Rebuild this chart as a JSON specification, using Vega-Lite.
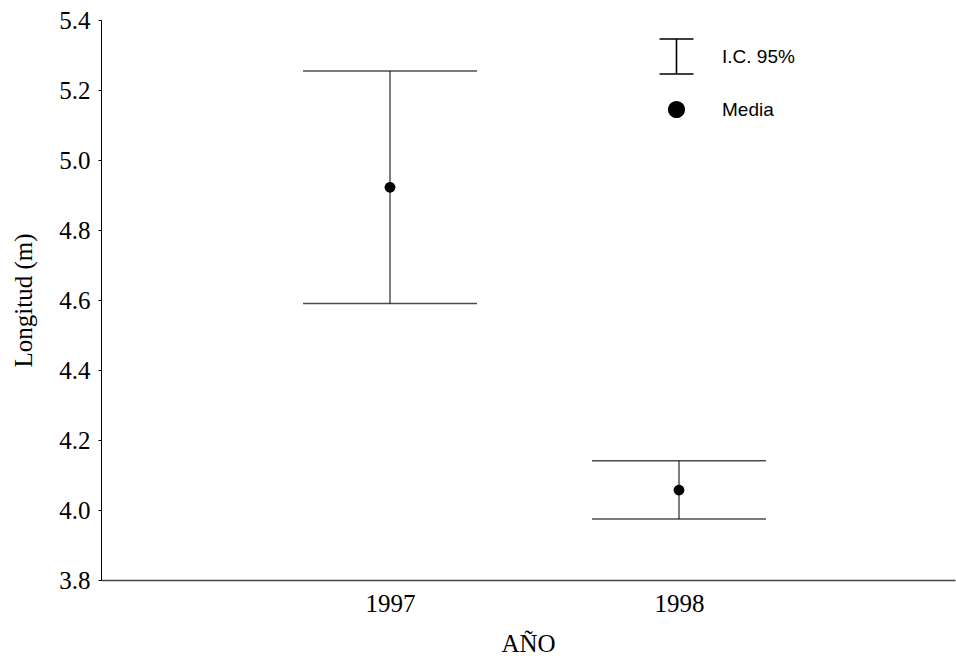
{
  "$schema": "https://vega.github.io/schema/vega-lite/v6.json",
  "width": 854,
  "height": 560,
  "autosize": "none",
  "padding": {"left": 101, "top": 20, "right": 1, "bottom": 80},
  "background": "white",
  "config": {
    "view": {"stroke": null},
    "axis": {"labelFont": "Liberation Serif", "titleFont": "Liberation Serif", "labelFontSize": 25, "titleFontSize": 25, "titleFontWeight": "normal", "labelColor": "black", "titleColor": "black", "domainColor": "black", "tickColor": "black", "grid": false}
  },
  "data": {"values": [
    {"year": 1997, "mean": 4.922, "lo": 4.590, "hi": 5.254},
    {"year": 1998, "mean": 4.057, "lo": 3.974, "hi": 4.141}
  ]},
  "encoding": {
    "x": {"field": "year", "type": "quantitative", "scale": {"domain": [1996, 1998.955], "nice": false, "zero": false},
      "axis": {"title": "AÑO", "values": [1997, 1998], "format": "d", "ticks": false, "labelPadding": 11, "titlePadding": 15, "domainWidth": 1.5, "domainColor": "#444"}}
  },
  "layer": [
    {
      "mark": {"type": "rule", "color": "#555", "strokeWidth": 1.5},
      "encoding": {
        "y": {"field": "lo", "type": "quantitative", "scale": {"domain": [3.8, 5.4], "nice": false, "zero": false},
          "axis": {"title": "Longitud (m)", "values": [3.8, 3.9, 4.0, 4.1, 4.2, 4.3, 4.4, 4.5, 4.6, 4.7, 4.8, 4.9, 5.0, 5.1, 5.2, 5.3, 5.4],
            "labelExpr": "round(datum.value*10) % 2 == 0 ? format(datum.value, '.1f') : ''", "tickSize": 3, "labelPadding": 8, "titlePadding": 22}},
        "y2": {"field": "hi"}
      }
    },
    {
      "mark": {"type": "tick", "orient": "horizontal", "color": "black", "size": 174, "thickness": 1.5},
      "encoding": {"y": {"field": "lo", "type": "quantitative"}}
    },
    {
      "mark": {"type": "tick", "orient": "horizontal", "color": "black", "size": 174, "thickness": 1.5},
      "encoding": {"y": {"field": "hi", "type": "quantitative"}}
    },
    {
      "mark": {"type": "point", "filled": true, "color": "black", "opacity": 1, "size": 484},
      "encoding": {
        "y": {"field": "mean", "type": "quantitative"},
        "shape": {"datum": "Media", "type": "nominal",
          "scale": {"domain": ["I.C. 95%", "Media"], "range": ["M-0.045,-0.96L0.045,-0.96L0.045,0.96L-0.045,0.96ZM-0.97,-1.045L0.97,-1.045L0.97,-0.955L-0.97,-0.955ZM-0.97,0.955L0.97,0.955L0.97,1.045L-0.97,1.045Z", "M-0.49,0A0.49,0.49,0,1,0,0.49,0A0.49,0.49,0,1,0,-0.49,0Z"]},
          "legend": {"title": null, "orient": "none", "legendX": 557, "legendY": 18, "padding": 0,
            "symbolSize": 1225, "symbolFillColor": "black", "symbolOpacity": 1,
            "labelFont": "Liberation Sans", "labelFontSize": 19, "labelColor": "black", "labelOffset": 27, "rowPadding": 13}}
      }
    }
  ]
}
